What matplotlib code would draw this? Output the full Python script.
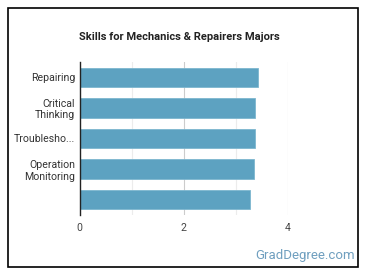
import matplotlib.pyplot as plt
from matplotlib.patches import Rectangle

# Skill scores for Mechanics & Repairers majors
skills = ['Repairing', 'Critical\nThinking', 'Troublesho...', 'Operation\nMonitoring', '']
scores = [3.42, 3.36, 3.36, 3.34, 3.27]
xticks = [0, 2, 4]

plt.rcParams['font.family'] = ['Roboto', 'DejaVu Sans']

W, H = 370, 278
fig = plt.figure(figsize=(W / 100, H / 100), dpi=100)

# card border
fig.patches.append(Rectangle((8 / W, 11 / H), 350 / W, 259 / H, transform=fig.transFigure,
                             fill=False, edgecolor='black', linewidth=1.2))

ax = fig.add_axes([79.5 / W, 63 / H, (288 - 79.5) / W, 153 / H])
ypos = range(len(skills))
ax.barh(ypos, scores, height=0.63, color='#5da2c1', edgecolor='#7db6cf', linewidth=0.6, zorder=3)
ax.set_ylim(len(skills) - 0.5, -0.5)
ax.set_xlim(0, 4)

for v in [1, 3]:
    ax.axvline(v, color='#ececec', linewidth=0.8, zorder=1)
for v in [2, 4]:
    ax.axvline(v, color='#cccccc', linewidth=0.8, zorder=1)

ax.set_yticks(list(ypos))
ax.set_yticklabels(skills, fontsize=7.6, color='#333333', linespacing=1.2)
ax.set_xticks(xticks)
ax.set_xticklabels([str(t) for t in xticks], fontsize=7.6, color='#444444')
ax.tick_params(axis='both', length=0)
ax.tick_params(axis='y', pad=3)
ax.tick_params(axis='x', pad=6)

for s in ['top', 'right', 'bottom']:
    ax.spines[s].set_visible(False)
ax.spines['left'].set_color('#222222')
ax.spines['left'].set_linewidth(1)
ax.spines['left'].set_zorder(4)

fig.text(179.5 / W, 1 - 37 / H, 'Skills for Mechanics & Repairers Majors', ha='center', va='center',
         fontsize=8, fontweight='bold', color='#222222')
fig.text(355 / W, 1 - 255 / H, 'GradDegree.com', ha='right', va='center', fontsize=9.5,
         color='#6f9fbf')

fig.savefig('out.png', dpi=100)
